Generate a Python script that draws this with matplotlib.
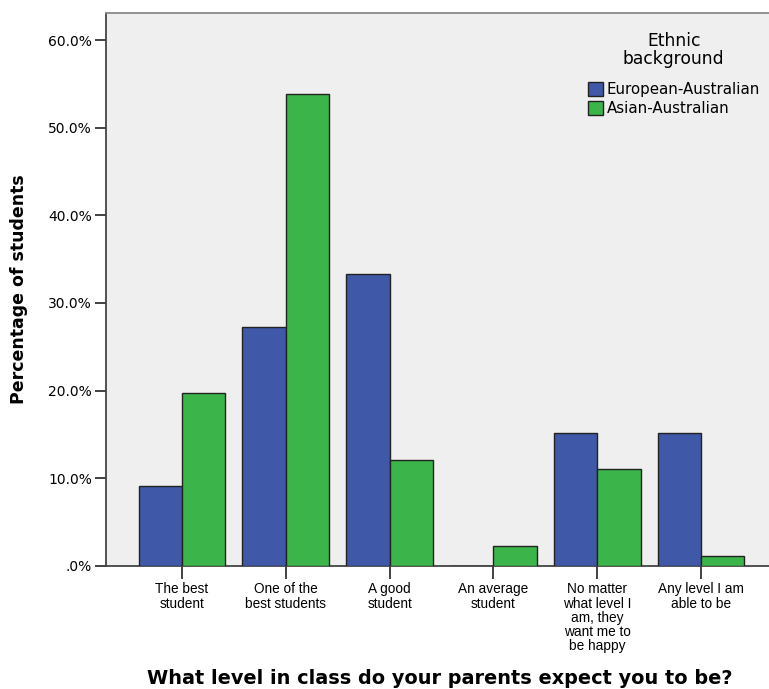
import numpy as np
import matplotlib.pyplot as plt

plt.rcParams['font.family'] = ['Liberation Sans', 'DejaVu Sans']

categories = ['The best\nstudent', 'One of the\nbest students', 'A good\nstudent',
              'An average\nstudent', 'No matter\nwhat level I\nam, they\nwant me to\nbe happy',
              'Any level I am\nable to be']
european = [9.1, 27.2, 33.3, 0.0, 15.2, 15.2]
asian = [19.7, 53.8, 12.1, 2.2, 11.0, 1.1]
series_names = ['European-Australian', 'Asian-Australian']

fig = plt.figure(figsize=(7.69, 6.89), dpi=100)
ax = fig.add_axes([106 / 769, (689 - 565.7) / 689, 671 / 769, 552.7 / 689])
ax.set_facecolor('#efefef')

x = np.arange(len(categories))
w = 0.415
ax.bar(x - w / 2, european, w, color='#3f58a8', edgecolor='#222222', linewidth=1.0,
       label=series_names[0], zorder=3)
ax.bar(x + w / 2, asian, w, color='#3bb54a', edgecolor='#222222', linewidth=1.0,
       label=series_names[1], zorder=3)

ax.set_xlim(-0.728, 5.728)
ax.set_ylim(0, 63.1)
ax.set_yticks([0, 10, 20, 30, 40, 50, 60])
ax.set_yticklabels(['.0%', '10.0%', '20.0%', '30.0%', '40.0%', '50.0%', '60.0%'],
                   fontsize=10, family='DejaVu Sans')
ax.set_xticks(x)
ax.set_xticklabels(categories, fontsize=9.8, linespacing=1.02, va='top')
ax.tick_params(axis='y', length=8, width=1.3, color='#333333', pad=2)
ax.tick_params(axis='x', length=9, width=1.3, color='#333333', pad=3)

for s in ['left', 'bottom']:
    ax.spines[s].set_color('#444444')
    ax.spines[s].set_linewidth(1.3)
ax.spines['top'].set_color('#888888')
ax.spines['top'].set_linewidth(1.3)
ax.spines['right'].set_visible(False)

ax.set_ylabel('Percentage of students', fontsize=12.5, fontweight='bold',
              family='DejaVu Sans')
ax.yaxis.set_label_coords(-0.116, 0.5)
ax.set_xlabel('What level in class do your parents expect you to be?', fontsize=13.9,
              fontweight='bold', family='DejaVu Sans')
ax.xaxis.set_label_coords(0.497, -0.187)

leg = ax.legend(title='Ethnic\nbackground', loc='upper right', bbox_to_anchor=(0.99, 0.985),
                frameon=False, prop={'family': 'DejaVu Sans', 'size': 10.8},
                title_fontproperties={'family': 'DejaVu Sans', 'size': 12.3},
                handlelength=1.0, handleheight=1.05, handletextpad=0.25,
                labelspacing=0.28, borderpad=0.2)
leg.get_title().set_multialignment('center')
leg.get_title().set_linespacing(1.0)
leg._legend_box.sep = 10

fig.savefig('out.png', dpi=100)
